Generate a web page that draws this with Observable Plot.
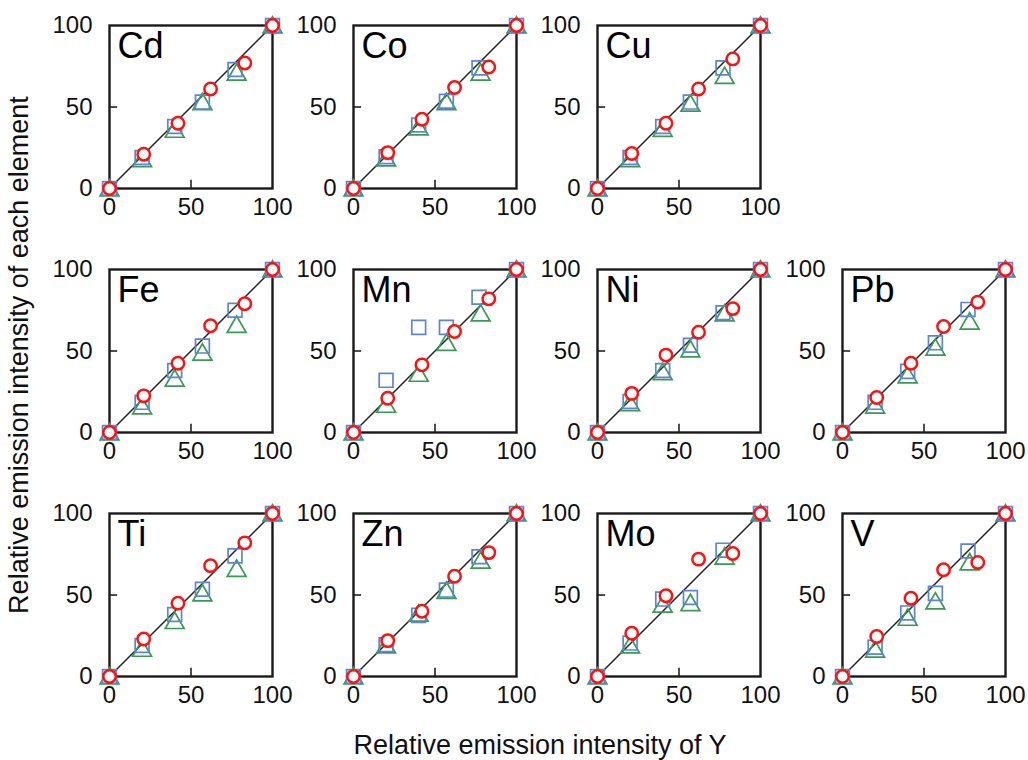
<!DOCTYPE html>
<html>
<head>
<meta charset="utf-8">
<script src="https://cdn.jsdelivr.net/npm/d3@7"></script>
<script src="https://cdn.jsdelivr.net/npm/@observablehq/plot@0.6"></script>
<style>
  html, body { margin: 0; padding: 0; background: #fff; }
  #chart { position: relative; width: 1028px; height: 760px; background: #fff; overflow: hidden;
           font-family: "Liberation Sans", Arial, sans-serif; color: #111; }
  #chart svg { position: absolute; }
  .ttl { position: absolute; font-size: 27px; white-space: nowrap; color: #111; line-height: 1; }
</style>
</head>
<body>
<div id="chart"></div>
<script>
// ---------- data ----------
const elements = ["Cd", "Co", "Cu", "Fe", "Mn", "Ni", "Pb", "Ti", "Zn", "Mo", "V"];
const panelRow = [0, 0, 0, 1, 1, 1, 1, 2, 2, 2, 2];
const panelCol = [0, 1, 2, 0, 1, 2, 3, 0, 1, 2, 3];

const axisTicks = [0, 50, 100];
const innerTicks = [50];
const diagonal = [[0, 0], [100, 100]];

const squareX   = [0, 20, 40, 57, 77, 100];
const triangleX = [0, 20, 40, 57, 78, 100];
const circleX   = [0, 21, 42, 62, 83, 100];

const squareY = [
  [0, 19, 38, 53, 73, 100],     // Cd
  [0, 19.5, 39, 53.5, 74, 100], // Co
  [0, 19, 38, 53, 74, 100],     // Cu
  [0, 18.5, 38, 53, 75, 100],   // Fe
  [0, 32, 64.5, 64.5, 83, 100], // Mn
  [0, 19, 38, 53.5, 73.5, 100], // Ni
  [0, 18.5, 37.5, 55, 75.5, 100], // Pb
  [0, 19, 38, 53.5, 74, 100],   // Ti
  [0, 19.5, 37.5, 53, 73.5, 100], // Zn
  [0, 20.5, 47.5, 48.5, 77.5, 100], // Mo
  [0, 18, 39, 51, 77, 100]      // V
];
const triangleY = [
  [0, 18, 36, 53, 71, 100],
  [0, 18.5, 37.5, 53, 71, 100],
  [0, 18, 36.5, 52, 69, 100],
  [0, 16, 33, 49, 66, 100],
  [0, 17, 36, 55, 73, 100],
  [0, 18, 37, 51, 73, 100],
  [0, 16.5, 35, 52, 68, 100],
  [0, 17, 34, 51, 66, 100],
  [0, 19, 38.5, 52.5, 71, 100],
  [0, 19, 44, 45, 73.5, 100],
  [0, 16.5, 36, 46, 70, 100]
];
const circleY = [
  [0, 21, 40, 61, 77, 100],
  [0, 22, 42.5, 62, 74.5, 100],
  [0, 21.5, 40, 61, 79.5, 100],
  [0, 22.5, 42.5, 65.5, 79, 100],
  [0, 21, 41.5, 62, 82, 100],
  [0, 24, 47.5, 61.5, 76, 100],
  [0, 21.5, 42.5, 65, 80, 100],
  [0, 23, 45, 68, 82, 100],
  [0, 22, 40, 61.5, 76, 100],
  [0, 26.5, 49.5, 72, 75.5, 100],
  [0, 24.5, 48, 65.5, 70, 100]
];

// ---------- layout ----------
const colLeft = [109, 353, 597, 842];
const rowTop = [25, 269, 513];
const size = 163;
const ML = 70, MR = 30, MT = 12, MB = 48;
const font = '"Liberation Sans", Arial, sans-serif';

const chart = document.getElementById("chart");

elements.forEach((name, i) => {
  const pts = (xs, ys) => xs.map((x, k) => ({x, y: ys[k]}));
  const sq = pts(squareX, squareY[i]);
  const tr = pts(triangleX, triangleY[i]);
  const ci = pts(circleX, circleY[i]);

  const svg = Plot.plot({
    width: ML + size + MR,
    height: MT + size + MB,
    marginLeft: ML, marginRight: MR, marginTop: MT, marginBottom: MB,
    x: {domain: [0, 100]},
    y: {domain: [0, 100]},
    style: {background: "transparent", overflow: "visible", fontFamily: font, color: "#111"},
    marks: [
      Plot.axisX({ticks: axisTicks, tickSize: 0, tickPadding: 9, fontSize: 24, label: null, tickFormat: d => String(d)}),
      Plot.axisY({ticks: axisTicks, tickSize: 0, tickPadding: 17, fontSize: 24, label: null, tickFormat: d => String(d)}),
      Plot.ruleX(innerTicks, {x: d => d, y1: 0, y2: 5, stroke: "#222", strokeWidth: 1.6}),
      Plot.ruleY(innerTicks, {y: d => d, x1: 0, x2: 5, stroke: "#222", strokeWidth: 1.6}),
      Plot.line(diagonal, {x: d => d[0], y: d => d[1], stroke: "#222", strokeWidth: 1.5}),
      Plot.frame({stroke: "#1a1a1a", strokeWidth: 2.4}),
      Plot.text([name], {frameAnchor: "top-left", text: d => d, dx: 8, dy: 7, fontSize: 36, fill: "#000", lineAnchor: "top"}),
      Plot.dot(tr, {x: "x", y: "y", symbol: "triangle", r: 7, dy: 2, stroke: "#3a9a55", strokeWidth: 1.7, fill: "none"}),
      Plot.dot(sq, {x: "x", y: "y", symbol: "square", r: 7.8, stroke: "#5e84d4", strokeWidth: 1.7, fill: "none"}),
      Plot.dot(ci, {x: "x", y: "y", symbol: "circle", r: 6.2, stroke: "#ff1010", strokeWidth: 2.5, fill: "white"})
    ]
  });
  svg.style.left = (colLeft[panelCol[i]] - ML) + "px";
  svg.style.top = (rowTop[panelRow[i]] - MT) + "px";
  chart.appendChild(svg);
});

const xt = document.createElement("div");
xt.className = "ttl";
xt.textContent = "Relative emission intensity of Y";
xt.style.left = "540px";
xt.style.top = "745px";
xt.style.transform = "translate(-50%, -50%)";
chart.appendChild(xt);

const yt = document.createElement("div");
yt.className = "ttl";
yt.textContent = "Relative emission intensity of each element";
yt.style.left = "19px";
yt.style.top = "355px";
yt.style.transform = "translate(-50%, -50%) rotate(-90deg)";
chart.appendChild(yt);
</script>
</body>
</html>
